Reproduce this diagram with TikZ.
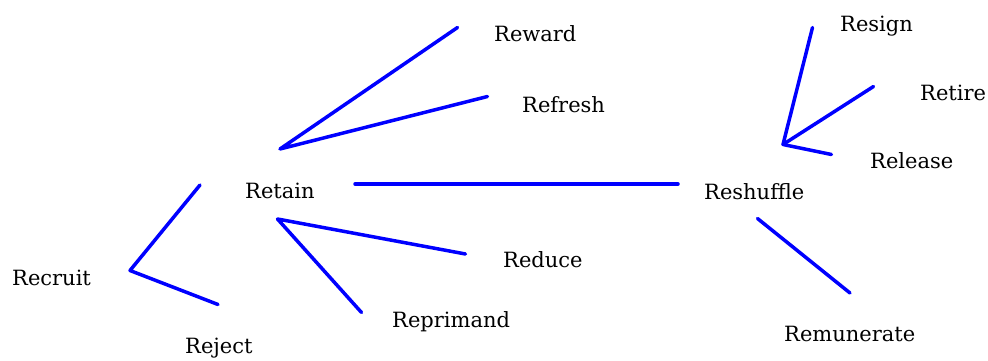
\documentclass[tikz,border=0pt]{standalone}
\usepackage{fontspec}
\setmainfont{DejaVu Serif}
\begin{document}
\begin{tikzpicture}[x=1pt,y=-1pt,
  lbl/.style={anchor=base west,inner sep=0pt,font=\fontsize{21}{24}\selectfont,text=black},
  link/.style={draw=blue,line width=3.5pt,line join=round,line cap=round}]
\useasboundingbox (0,0) rectangle (988,361);
% labels
\node[lbl] (reward) at (494,42) {Reward};
\node[lbl] (refresh) at (522,112) {Refresh};
\node[lbl] (retain) at (245,198) {Retain};
\node[lbl] (recruit) at (12,285) {Recruit};
\node[lbl] (reject) at (185,353) {Reject};
\node[lbl] (reduce) at (503,267) {Reduce};
\node[lbl] (reprimand) at (392,327) {Reprimand};
\node[lbl] (reshuffle) at (704,199) {Reshuffle};
\node[lbl] (resign) at (840,32) {Resign};
\node[lbl] (retire) at (920,100) {Retire};
\node[lbl] (release) at (870,168) {Release};
\node[lbl] (remunerate) at (784,341) {Remunerate};
% line end points
\coordinate (rcv) at (130,270.5);
\coordinate (rcu) at (200,185);
\coordinate (rcl) at (218,304.5);
\coordinate (rtu) at (280,149);
\coordinate (rwe) at (457.5,27.5);
\coordinate (rfe) at (487.5,96.5);
\coordinate (rtl) at (277.5,219);
\coordinate (rde) at (465.5,254);
\coordinate (rpe) at (361.5,312.5);
\coordinate (hl) at (355,184);
\coordinate (hr) at (678,184);
\coordinate (rsv) at (783,144.5);
\coordinate (rge) at (812.5,27.5);
\coordinate (rre) at (873.5,86.5);
\coordinate (rle) at (831.5,154.5);
\coordinate (rms) at (757.5,218.5);
\coordinate (rme) at (850,293);
% connectors
\draw[link] (rcu) -- (rcv) -- (rcl);
\draw[link] (rwe) -- (rtu) -- (rfe);
\draw[link] (rde) -- (rtl) -- (rpe);
\draw[link] (hl) -- (hr);
\draw[link] (rge) -- (rsv) -- (rre);
\draw[link] (rsv) -- (rle);
\draw[link] (rms) -- (rme);
\end{tikzpicture}
\end{document}
